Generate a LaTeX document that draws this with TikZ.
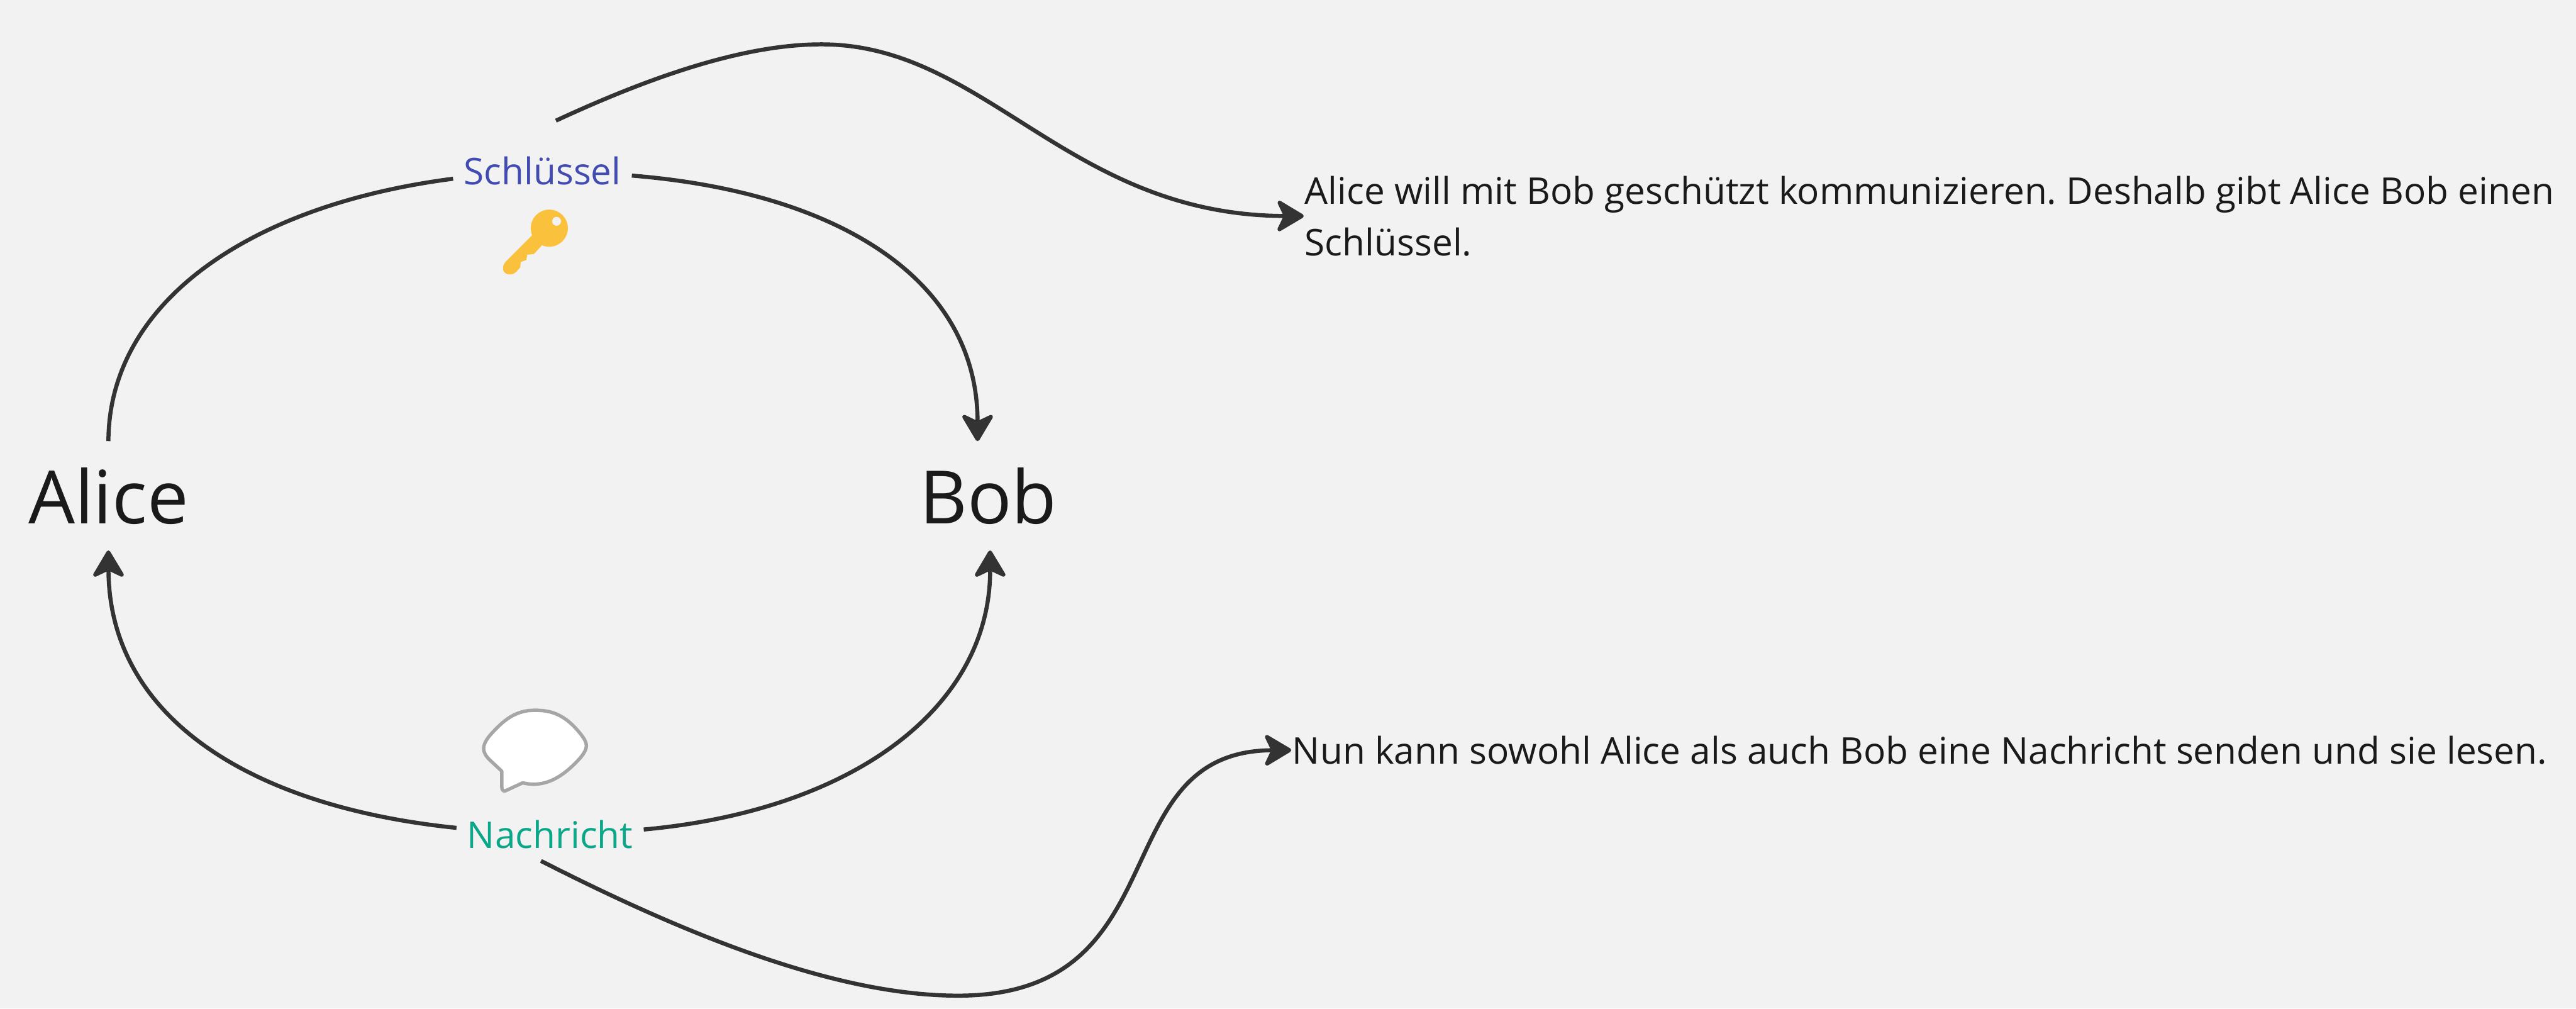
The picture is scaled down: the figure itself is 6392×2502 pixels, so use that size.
\documentclass[tikz,border=0pt]{standalone}
\usepackage{fontspec}
\setmainfont{Open Sans}
\usepackage{xcolor}
\usetikzlibrary{arrows.meta,calc,positioning}
\definecolor{paper}{HTML}{F2F2F2}
\definecolor{ink}{HTML}{1A1A1A}
\definecolor{wire}{HTML}{333333}
\definecolor{keyblue}{HTML}{414BB2}
\definecolor{msggreen}{HTML}{0CA789}
\definecolor{keygold}{HTML}{FAC13C}
\frenchspacing
\tikzset{
  person/.style={inner sep=0pt,minimum height=18.92pt,text=ink,font=\fontsize{13}{15}\selectfont},
  tag/.style={inner ysep=0pt,inner xsep=1.7pt,font=\fontsize{6.5}{9}\selectfont},
  note/.style={inner sep=0pt,text=ink,align=left,font=\fontsize{6.5}{9.1}\selectfont},
  wireline/.style={draw=wire,line width=.72pt},
  tipped/.style={wireline,-{Stealth[length=5.4pt,width=6.4pt,inset=1.5pt,round]}}
}
\begin{document}
\begin{tikzpicture}[x=.0025cm,y=-.0025cm]
\fill[paper] (0,0) rectangle (6392,2502);
\useasboundingbox (0,0) rectangle (6392,2502);
\node[person] (alice) at (269,1230){Alice};
\node[person] (bob) at (2452,1230){Bob};
\node[tag,text=keyblue,minimum height=17.35pt] (schluessel) at (1346,424){Schlüssel};
\node[tag,text=msggreen,minimum height=8.96pt] (nachricht) at (1365,2070){Nachricht};
\node[note,anchor=west] (noteone) at (3235,536){Alice will mit Bob geschützt kommunizieren. Deshalb gibt Alice Bob einen\\Schlüssel.};
\node[note,anchor=west] (notetwo) at (3204,1861){Nun kann sowohl Alice als auch Bob eine Nachricht senden und sie lesen.};
% key
\fill[keygold] (1363,566) ellipse (46 and 46);
\fill[keygold] (1321,583)--(1254,650) .. controls (1244,662) and (1246,681) .. (1266,681) .. controls (1275,681) and (1280,676) .. (1291,663)--(1292,650)--(1306,645)--(1308,632)--(1325,630)--(1345,608)--(1375,590)--cycle;
\fill[paper] (1381,549) circle (11);
% speech bubble
\draw[draw=black!35,fill=white,line width=.6pt,line join=round] (1245,1913)--(1245,1952) .. controls (1245,1962) and (1251,1964) .. (1256,1961)--(1297,1942) .. controls (1350,1955) and (1395,1930) .. (1440,1880) .. controls (1460,1855) and (1460,1845) .. (1440,1820) .. controls (1400,1770) and (1365,1762) .. (1327,1762) .. controls (1280,1762) and (1250,1785) .. (1215,1825) .. controls (1195,1850) and (1195,1865) .. (1215,1885)--cycle;
% connectors
\draw[wireline] (schluessel.185) .. controls (610,510) and (270,755) .. (alice.90);
\draw[tipped] (schluessel.357.7) .. controls (2080,477) and (2426,693) .. (bob.101);
\draw[tipped] (nachricht.176.8) .. controls (610,2000) and (270,1773) .. (alice.270);
\draw[tipped] (nachricht.3.3) .. controls (2120,2010) and (2458,1753) .. (bob.272.6);
\draw[tipped] (schluessel.75) .. controls (1630,183) and (1855,110) .. (2038,110) .. controls (2446,110) and (2650,534) .. (noteone.west);
\draw[tipped] (nachricht.251) .. controls (1712,2324) and (2079,2470) .. (2377,2470) .. controls (2935,2470) and (2731,1863) .. (notetwo.west);
\end{tikzpicture}
\end{document}
